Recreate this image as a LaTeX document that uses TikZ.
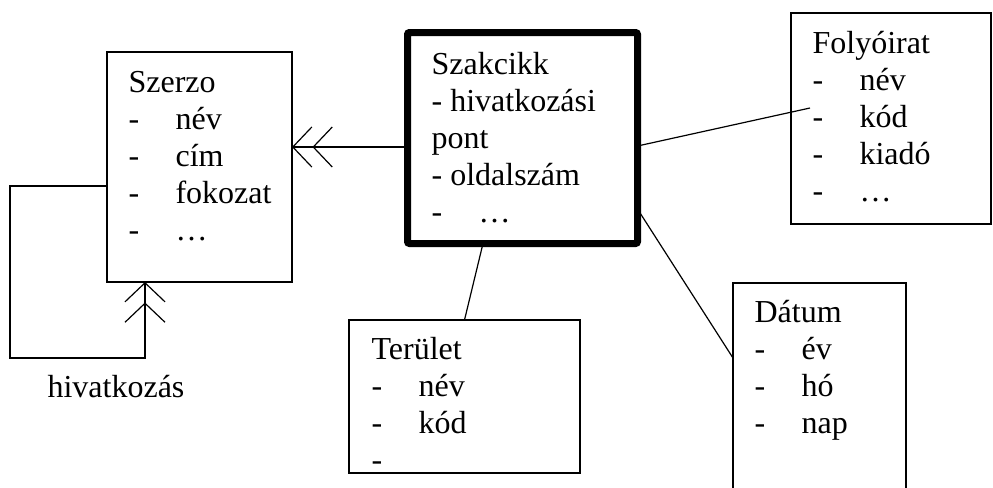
\documentclass[tikz,border=0pt]{standalone}
\usepackage{fontspec}
\setmainfont{Liberation Serif}
\usetikzlibrary{arrows.meta}

\newcommand{\dashitem}{\makebox[23.5pt][l]{-}}

\begin{document}
\begin{tikzpicture}[x=0.5pt, y=-0.5pt, line width=0.6pt]
			\tikzstyle{entity} = [draw, line width=0.6pt, anchor=north west, inner sep=0pt, outer sep=0pt]
			\tikzstyle{mainentity} = [draw, line width=3.5pt, rounded corners=1pt, anchor=north west, inner sep=0pt, outer sep=0pt]
			\tikzstyle{attrs} = [anchor=north west, inner sep=0pt, align=left, font=\fontsize{16}{18.5}\selectfont]
			\tikzstyle{many} = [-{Straight Barb[length=9.5pt,width=20pt,sep=0pt]Straight Barb[length=9.5pt,width=20pt]}]

			\useasboundingbox (0,0) rectangle (993,488);
			\clip (0,0) rectangle (993,488);

			\node[mainentity, minimum width=115pt, minimum height=105.5pt] (szakcikk) at (407.5,32.5) {};
			\node[entity, minimum width=92.5pt, minimum height=115pt] (szerzo) at (107,52) {};
			\node[entity, minimum width=100pt, minimum height=105.5pt] (folyoirat) at (791,13) {};
			\node[entity, minimum width=86.5pt, minimum height=125pt] (datum) at (733,283) {};
			\node[entity, minimum width=115.5pt, minimum height=76.5pt] (terulet) at (349,320) {};

			\node[attrs] (szakcikk-t) at (431,48) {\strut Szakcikk\\- hivatkozási\\pont\\- oldalszám\\\dashitem …};
			\node[attrs] (szerzo-t) at (128,66) {\strut Szerzo\\\dashitem név\\\dashitem cím\\\dashitem fokozat\\\dashitem …};
			\node[attrs] (folyoirat-t) at (812,27) {\strut Folyóirat\\\dashitem név\\\dashitem kód\\\dashitem kiadó\\\dashitem …};
			\node[attrs] (datum-t) at (754,296) {\strut Dátum\\\dashitem év\\\dashitem hó\\\dashitem nap};
			\node[attrs] (terulet-t) at (371,333) {\strut Terület\\\dashitem név\\\dashitem kód\\-};
			\node[attrs, anchor=base] (hivatkozas) at (116,397) {hivatkozás};

			\coordinate (cite) at ([yshift=10pt]szerzo.east);
			\coordinate (loop) at (10,358);

			\draw[many] (szakcikk.west |- cite) -- (cite);
			\draw[many] ([yshift=-9.5pt]szerzo.west) -| (loop) -| ([xshift=-27.25pt]szerzo.south);
			\draw ([yshift=-4pt]szakcikk.east) -- ([xshift=9.5pt,yshift=5.25pt]folyoirat.west);
			\draw ([yshift=-35.5pt]szakcikk.east) -- ([yshift=-37.5pt]datum.north west);
			\draw ([xshift=-19.75pt]szakcikk.south) -- (terulet.north);

\end{tikzpicture}
\end{document}
